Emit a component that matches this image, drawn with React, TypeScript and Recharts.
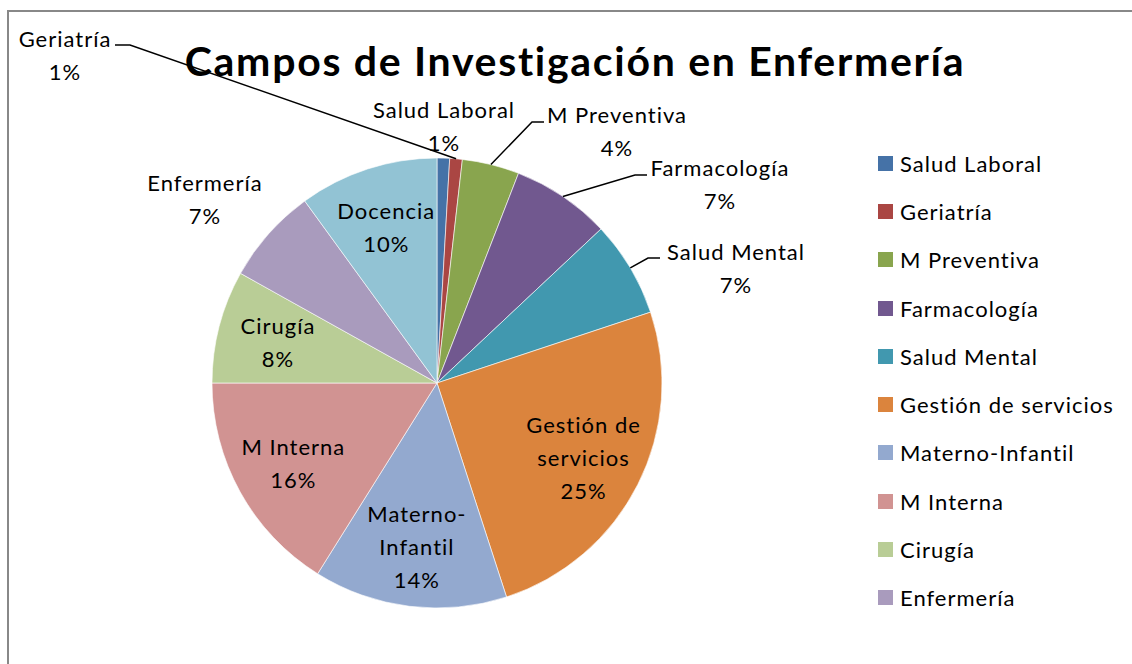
import { PieChart, Pie, Cell, Legend } from 'recharts'

const categories = [
  'Salud Laboral',
  'Geriatría',
  'M Preventiva',
  'Farmacología',
  'Salud Mental',
  'Gestión de servicios',
  'Materno-Infantil',
  'M Interna',
  'Cirugía',
  'Enfermería',
  'Docencia',
]
const shares = [0.9, 0.9, 4.1, 7.1, 6.9, 25.1, 13.9, 16.1, 8.1, 6.9, 10.0]
const colors = [
  '#4572A7', '#AA4643', '#89A54E', '#71588F', '#4198AF', '#DB843D',
  '#93A9CF', '#D19392', '#B9CD96', '#A99BBD', '#92C3D4',
]
// the original legend got cut off after ten entries
const legendCount = 10

const FONT = 'Lato, "Open Sans", sans-serif'
const LINE_H = 33

// how each label is split over lines
const labelLines: Record<string, string[]> = {
  'Gestión de servicios': ['Gestión de', 'servicios'],
  'Materno-Infantil': ['Materno-', 'Infantil'],
}

// labels that sit outside the pie: block centre and leader bends, relative to pie centre
const outside: Record<string, { dx: number; dy: number; leader?: [number, number][] }> = {
  'Salud Laboral': { dx: 7, dy: -257 },
  'Geriatría': { dx: -372, dy: -328, leader: [[-307, -338], [-322, -338]] },
  'M Preventiva': { dx: 180, dy: -252, leader: [[95, -261], [107, -261]] },
  'Farmacología': { dx: 283, dy: -199, leader: [[198, -208], [210, -208]] },
  'Salud Mental': { dx: 299, dy: -115, leader: [[211, -125], [223, -125]] },
  'Enfermería': { dx: -232, dy: -184 },
}

const data = categories.map((name, i) => ({ name, value: shares[i], fill: colors[i] }))

const RAD = Math.PI / 180

function renderLabel(props: any) {
  const { cx, cy, midAngle, outerRadius, percent, index } = props
  const name = categories[index]
  const lines = [...(labelLines[name] ?? [name]), `${Math.round(percent * 100)}%`]
  const out = outside[name]
  let x: number
  let y: number
  let leader: JSX.Element | null = null
  if (out) {
    x = cx + out.dx
    y = cy + out.dy
    if (out.leader) {
      const sx = cx + outerRadius * Math.cos(-midAngle * RAD)
      const sy = cy + outerRadius * Math.sin(-midAngle * RAD)
      const pts = [[sx, sy], ...out.leader.map(([dx, dy]) => [cx + dx, cy + dy])]
      leader = (
        <polyline
          points={pts.map((p) => p.join(',')).join(' ')}
          fill="none"
          stroke="#000"
          strokeWidth={1.5}
        />
      )
    }
  } else {
    const r = outerRadius * 0.73
    x = cx + r * Math.cos(-midAngle * RAD)
    y = cy + r * Math.sin(-midAngle * RAD)
  }
  const top = y - ((lines.length - 1) * LINE_H) / 2
  return (
    <g key={`lbl-${index}`}>
      {leader}
      <text textAnchor="middle" fill="#000" fontSize={22} fontFamily={FONT} letterSpacing={1}>
        {lines.map((ln, i) => (
          <tspan key={i} x={x} y={top + i * LINE_H} dominantBaseline="central">
            {ln}
          </tspan>
        ))}
      </text>
    </g>
  )
}

function renderLegend(props: any) {
  const items = (props.payload ?? []).slice(0, legendCount)
  return (
    <div style={{ fontFamily: FONT, fontSize: 22, color: '#000', letterSpacing: 1 }}>
      {items.map((it: any, i: number) => (
        <div key={i} style={{ display: 'flex', alignItems: 'center', height: 48.3 }}>
          <span style={{ width: 15, height: 15, background: colors[i], marginRight: 7, flexShrink: 0 }} />
          <span style={{ whiteSpace: 'nowrap' }}>{categories[i]}</span>
        </div>
      ))}
    </div>
  )
}

export default function App() {
  return (
    <div
      style={{
        position: 'absolute',
        left: 0,
        top: 0,
        width: 1132,
        height: 664,
        overflow: 'hidden',
        background: '#fff',
      }}
    >
      {/* chart frame, only its left and top edges fall inside the picture */}
      <div
        style={{
          position: 'absolute',
          left: 7,
          top: 10,
          width: 1200,
          height: 800,
          border: '2px solid #888',
        }}
      />
      <div
        style={{
          position: 'absolute',
          left: 0,
          top: 32,
          width: 1150,
          textAlign: 'center',
          fontFamily: FONT,
          fontWeight: 700,
          fontSize: 41,
          letterSpacing: 1.7,
          color: '#000',
          lineHeight: '58px',
        }}
      >
        Campos de Investigación en Enfermería
      </div>
      <PieChart width={1132} height={664} margin={{ top: 0, right: 0, bottom: 0, left: 0 }} style={{ position: 'absolute', left: 0, top: 0 }}>
        <Pie
          data={data}
          dataKey="value"
          nameKey="name"
          cx={437}
          cy={383}
          outerRadius={225}
          startAngle={90}
          endAngle={-270}
          stroke="#fff"
          strokeWidth={0.6}
          label={renderLabel}
          labelLine={false}
          isAnimationActive={false}
        >
          {data.map((d, i) => (
            <Cell key={i} fill={d.fill} />
          ))}
        </Pie>
        <Legend
          layout="vertical"
          align="right"
          verticalAlign="top"
          content={renderLegend}
          wrapperStyle={{ left: 878, top: 139, width: 250 }}
        />
      </PieChart>
    </div>
  )
}
